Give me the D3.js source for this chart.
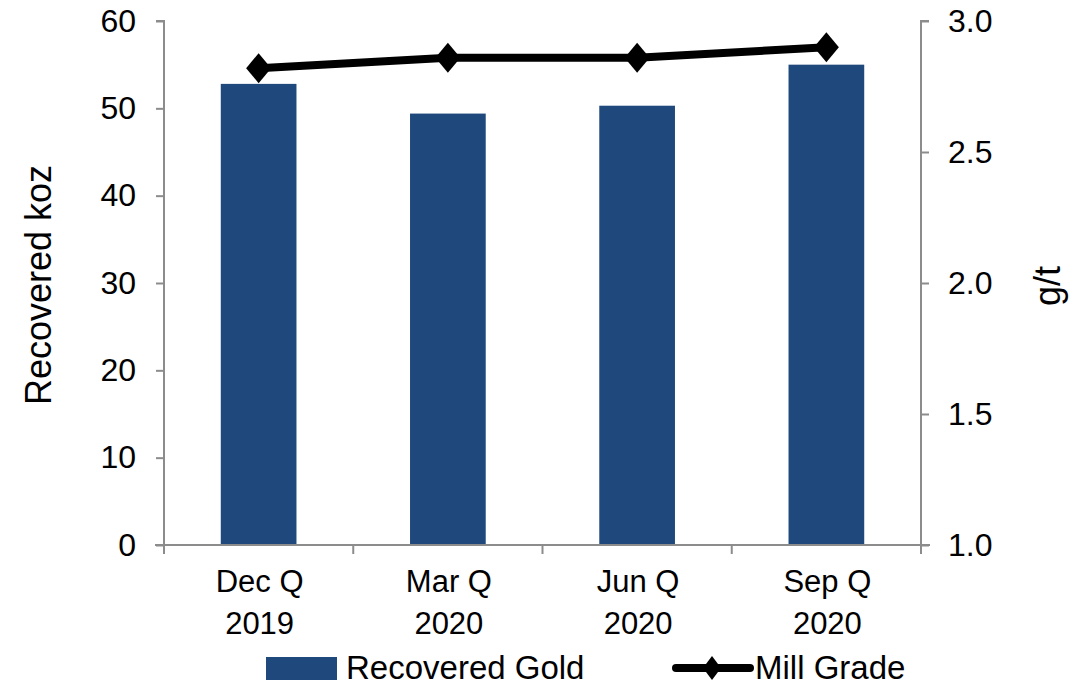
<!DOCTYPE html>
<html>
<head>
<meta charset="utf-8">
<script src="https://cdn.jsdelivr.net/npm/d3@7"></script>
<style>
  html, body { margin: 0; padding: 0; background: #fff; }
  svg { display: block; font-family: "Liberation Sans", Arial, sans-serif; }
</style>
</head>
<body>
<svg id="chart" width="1092" height="687"></svg>
<script>
// Quarterly production: recovered gold (koz, bars) and mill grade (g/t, line)
const categories = [["Dec Q", "2019"], ["Mar Q", "2020"], ["Jun Q", "2020"], ["Sep Q", "2020"]];
const recoveredGold = [52.8, 49.4, 50.3, 55.0];
const millGrade = [2.82, 2.86, 2.86, 2.90];
const leftTicks = [0, 10, 20, 30, 40, 50, 60];
const rightTicks = [1.0, 1.5, 2.0, 2.5, 3.0];

const svg = d3.select("#chart");
const plot = { left: 164, right: 921, top: 21, bottom: 545 };
const axisColor = "#8c8c8c";
const barColor = "#1f497d";
const fontFamily = "'Liberation Sans', Arial, sans-serif";

const keys = categories.map(c => c.join(" "));
const x = d3.scaleBand().domain(keys).range([plot.left, plot.right]).paddingInner(0.6).paddingOuter(0.3);
const xOuter = d3.scaleBand().domain(keys).range([plot.left, plot.right]);
const yL = d3.scaleLinear().domain([0, 60]).range([plot.bottom, plot.top]);
const yR = d3.scaleLinear().domain([1.0, 3.0]).range([plot.bottom, plot.top]);

// Bars
svg.append("g").selectAll("rect").data(recoveredGold).join("rect")
  .attr("x", (d, i) => x(keys[i]))
  .attr("width", x.bandwidth())
  .attr("y", d => yL(d))
  .attr("height", d => yL(0) - yL(d))
  .attr("fill", barColor);

// Left axis
const gL = svg.append("g").attr("transform", `translate(${plot.left},0)`)
  .call(d3.axisLeft(yL).tickValues(leftTicks).tickSize(8).tickPadding(20).tickFormat(d3.format("d")));
// Right axis
const gR = svg.append("g").attr("transform", `translate(${plot.right},0)`)
  .call(d3.axisRight(yR).tickValues(rightTicks).tickSize(8).tickPadding(19).tickFormat(d3.format(".1f")));
// Bottom axis (tick marks at category boundaries)
const gB = svg.append("g").attr("transform", `translate(0,${plot.bottom})`)
  .call(d3.axisBottom(xOuter).tickSize(0).tickFormat(""));
gB.selectAll(".tick").remove();
gB.selectAll("line.bnd").data(keys.concat(["end"])).join("line")
  .attr("class", "bnd")
  .attr("x1", (d, i) => i < keys.length ? xOuter(d) : plot.right)
  .attr("x2", (d, i) => i < keys.length ? xOuter(d) : plot.right)
  .attr("y1", 0).attr("y2", 9);
gB.select(".domain").attr("d", `M${plot.left - 9},0H${plot.right + 9}`);

[gL, gR, gB].forEach(g => {
  g.selectAll(".domain").attr("stroke", axisColor).attr("stroke-width", 2);
  g.selectAll("line").attr("stroke", axisColor).attr("stroke-width", 2);
  g.selectAll("text").attr("font-size", 32).attr("fill", "#000").attr("font-family", fontFamily);
});
gL.select(".domain").attr("d", `M-8,${plot.top}H0V${plot.bottom}`);
gR.select(".domain").attr("d", `M8,${plot.top}H0V${plot.bottom}`);

// Category labels (two lines)
const catG = svg.append("g");
categories.forEach((c, i) => {
  const cx = xOuter(keys[i]) + xOuter.bandwidth() / 2 + 1;
  const t = catG.append("text").attr("text-anchor", "middle").attr("font-size", 31).attr("fill", "#000");
  t.append("tspan").attr("x", cx).attr("y", 592).text(c[0]);
  t.append("tspan").attr("x", cx).attr("y", 634).text(c[1]);
});

// Axis titles
const midY = (plot.top + plot.bottom) / 2 + 1;
svg.append("text").attr("transform", `translate(51,${midY + 1}) rotate(-90)`)
  .attr("text-anchor", "middle").attr("font-size", 36).attr("fill", "#000").text("Recovered koz");
svg.append("text").attr("transform", `translate(1060,${midY + 2}) rotate(-90)`)
  .attr("text-anchor", "middle").attr("font-size", 36).attr("fill", "#000").text("g/t");

// Mill grade line
const cxOf = i => xOuter(keys[i]) + xOuter.bandwidth() / 2;
const line = d3.line().x((d, i) => cxOf(i)).y(d => yR(d));
svg.append("path").datum(millGrade).attr("d", line)
  .attr("fill", "none").attr("stroke", "#000").attr("stroke-width", 8).attr("stroke-linejoin", "round");
const diamond = (w, h) => `M0,${-h / 2}L${w / 2},0L0,${h / 2}L${-w / 2},0Z`;
svg.append("g").selectAll("path").data(millGrade).join("path")
  .attr("transform", (d, i) => `translate(${cxOf(i)},${yR(d)})`)
  .attr("d", diamond(25, 30)).attr("fill", "#000");

// Legend
const lg = svg.append("g").attr("font-size", 33).attr("fill", "#000");
lg.append("rect").attr("x", 266).attr("y", 657).attr("width", 71).attr("height", 23).attr("fill", barColor);
lg.append("text").attr("x", 346).attr("y", 679).text("Recovered Gold");
lg.append("line").attr("x1", 676).attr("x2", 750).attr("y1", 668).attr("y2", 668)
  .attr("stroke", "#000").attr("stroke-width", 8).attr("stroke-linecap", "round");
lg.append("path").attr("transform", "translate(712,668)").attr("d", diamond(18, 24)).attr("fill", "#000");
lg.append("text").attr("x", 755).attr("y", 679).text("Mill Grade");
</script>
</body>
</html>
